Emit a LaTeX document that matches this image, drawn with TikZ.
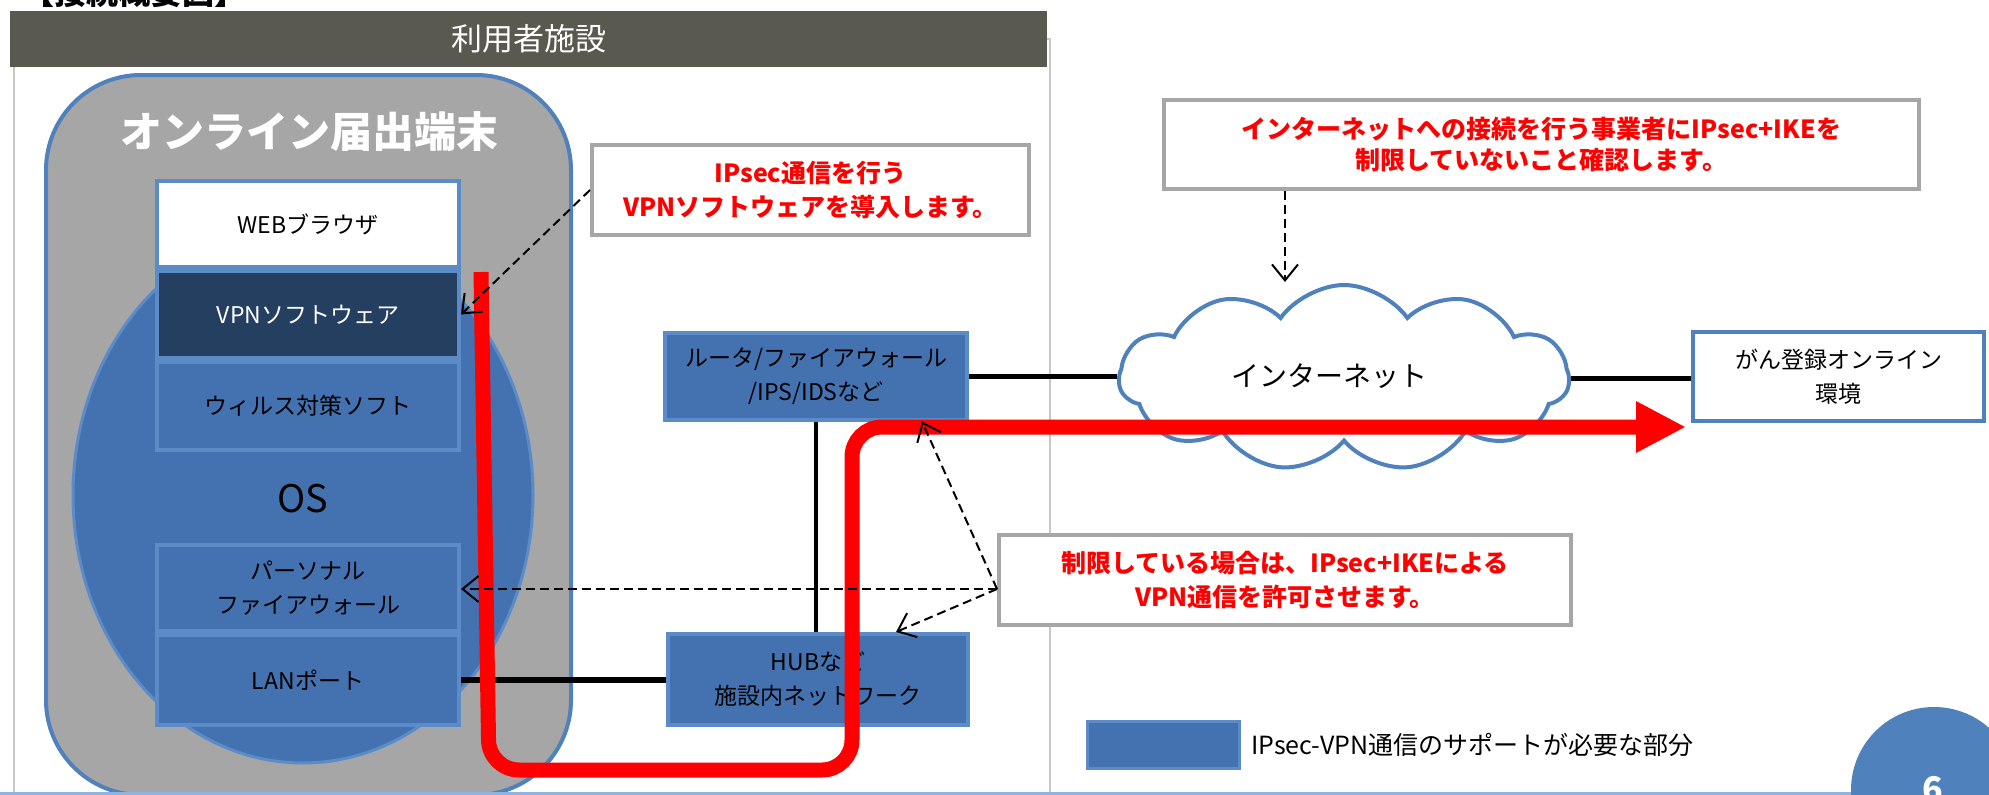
\documentclass[tikz,border=0pt]{standalone}
\usepackage{fontspec}
\setmainfont{Noto Sans CJK JP}
\usetikzlibrary{arrows.meta,shapes.geometric,shapes.symbols}
\definecolor{barbg}{RGB}{89,89,80}
\definecolor{termgray}{RGB}{166,166,166}
\definecolor{termborder}{RGB}{79,129,189}
\definecolor{boxblue}{RGB}{68,114,176}
\definecolor{boxborder}{RGB}{92,140,200}
\definecolor{navy}{RGB}{36,63,96}
\definecolor{calloutgray}{RGB}{166,166,166}
\definecolor{panelgray}{RGB}{200,200,200}
\definecolor{circblue}{RGB}{79,129,189}
\definecolor{lineblue}{RGB}{142,180,227}
\definecolor{vred}{RGB}{255,0,0}
\newcommand{\fsz}[2]{\fontsize{#1}{#2}\selectfont}
\begin{document}
\begin{tikzpicture}[x=1pt,y=-1pt,
  stackbox/.style={draw=boxborder,line width=4pt,fill=boxblue,minimum width=302pt,inner sep=0pt,align=center,font=\fsz{23}{34}},
  netbox/.style={draw=boxborder,line width=4pt,fill=boxblue,inner sep=0pt,align=center,font=\fsz{23}{34}},
  callout/.style={draw=calloutgray,line width=4pt,fill=white,inner sep=0pt,align=center,text=vred,font=\bfseries\fsz{25}{34}},
  darrow/.style={draw=black,line width=2pt,dash pattern=on 9pt off 5pt,-{Straight Barb[length=16pt,width=26pt,line width=2pt]}},
  thickline/.style={draw=black,line width=5pt},
]
\useasboundingbox (0,0) rectangle (1989,795);
\clip (0,0) rectangle (1989,795);
\fill[white] (0,0) rectangle (1989,795);

% heading (cut off at top)
\node[anchor=base west,inner sep=0pt,font=\bfseries\fsz{32}{36}] (heading) at (22,5) {【接続概要図】};

% facility panel
\node[draw=panelgray,line width=2pt,fill=white,minimum width=1036pt,minimum height=790pt,inner sep=0pt,anchor=north west] (facility) at (13,38) {};
\node[fill=barbg,minimum width=1037pt,minimum height=56pt,inner sep=0pt,text=white,font=\fsz{31}{36}] (bar) at (528.5,39) {利用者施設};

% terminal
\node[draw=termborder,line width=4pt,fill=termgray,rounded corners=95pt,minimum width=525pt,minimum height=720pt,inner sep=0pt] (term) at (308.5,435) {};
\node[text=white,font=\bfseries\fsz{42}{48}] (termtitle) at (309,132) {オンライン届出端末};

% OS ellipse
\node[ellipse,fill=boxblue,draw=boxborder,line width=3pt,minimum width=460pt,minimum height=536pt,inner sep=0pt] (os) at (303,495) {};
\node[font=\fsz{38}{42}] (ostext) at (303,499) {OS};

% stack
\node[stackbox,fill=white,minimum height=86pt] (web) at (308,224) {WEBブラウザ};
\node[stackbox,fill=navy,text=white,minimum height=87pt] (vpn) at (308,314.5) {VPNソフトウェア};
\node[stackbox,minimum height=88pt] (virus) at (308,406) {ウィルス対策ソフト};
\node[stackbox,minimum height=86pt] (pfw) at (308,588) {パーソナル\\ファイアウォール};
\node[stackbox,minimum height=90pt] (lan) at (308,680) {LANポート};

% network boxes
\node[netbox,minimum width=302pt,minimum height=87pt] (router) at (816,376) {ルータ/ファイアウォール\\/IPS/IDSなど};
\node[netbox,minimum width=300pt,minimum height=91pt] (hub) at (818,679.5) {HUBなど\\施設内ネットワーク};
\node[draw=termborder,line width=4pt,fill=white,minimum width=291pt,minimum height=89pt,inner sep=0pt,align=center,font=\fsz{23}{34}] (env) at (1838.5,376.5) {がん登録オンライン\\環境};

% cloud
\node[cloud,cloud puffs=11,cloud puff arc=110,aspect=2.4,draw=termborder,line width=4pt,fill=white,minimum width=450pt,minimum height=186pt,inner sep=0pt] (cloud) at (1344,378) {};
\node[font=\fsz{28}{32}] (cloudtext) at (1329,376) {インターネット};

% connectors
\draw[thickline] (router.east) -- (router.east -| cloud.west);
\draw[thickline] (cloud.east) -- (cloud.east -| env.west);
\draw[draw=black,line width=4pt] (router.south) -- (router.south |- hub.north);
\draw[draw=black,line width=6pt] (lan.east) -- (lan.east -| hub.west);

% red path
\draw[vred,line width=15pt,rounded corners=30pt,-{Triangle[length=50pt,width=48pt]}]
  (481,272) -- (489,770) -- (852,770) -- (852,427) [rounded corners=45pt] -- (1686,427);

% legend
\node[draw=boxborder,line width=3pt,fill=boxblue,minimum width=152pt,minimum height=47pt,inner sep=0pt] (legendbox) at (1163.5,745) {};
\node[anchor=west,inner sep=0pt,font=\fsz{25}{28}] (legendtext) at (1251,745) {IPsec-VPN通信のサポートが必要な部分};

% bottom line and page number
\draw[lineblue,line width=3pt] (0,793) -- (1989,793);
\node[circle,fill=circblue,minimum size=166pt,inner sep=0pt] (pagecirc) at (1934,790) {};
\node[anchor=base,inner sep=0pt,text=white,font=\bfseries\fsz{34}{40}] (pagenum) at (1933,801) {6};

% callouts
\node[callout,minimum width=437pt,minimum height=90pt] (call1) at (810.5,190) {IPsec通信を行う\\VPNソフトウェアを導入します。};
\node[callout,minimum width=755pt,minimum height=89pt,font=\bfseries\fsz{25}{31}] (call2) at (1541.5,144.5) {インターネットへの接続を行う事業者にIPsec+IKEを\\制限していないこと確認します。};
\node[callout,minimum width=572pt,minimum height=90pt] (call3) at (1285,580) {制限している場合は、IPsec+IKEによる\\VPN通信を許可させます。};

% dashed arrows
\coordinate (cloudtop) at (1285,282);
\draw[darrow] (call1.west) -- (vpn.east);
\draw[darrow] (call2.south -| cloudtop) -- (cloudtop);
\coordinate (c3src) at ([yshift=-9pt]call3.west);
\draw[darrow] (c3src) -- (c3src -| pfw.east);
\draw[darrow] (c3src) -- ([xshift=106pt]router.south);
\draw[darrow] (c3src) -- ([xshift=78pt]hub.north);
\end{tikzpicture}
\end{document}
